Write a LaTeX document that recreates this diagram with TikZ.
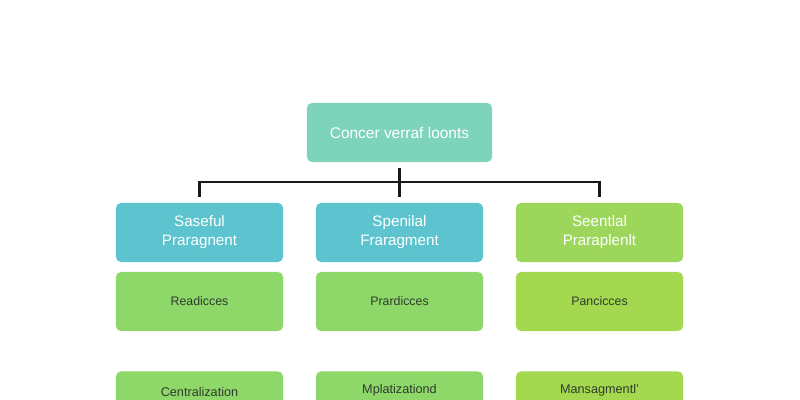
\documentclass[tikz,border=0pt]{standalone}
\usepackage{fontspec}
\setmainfont{Liberation Sans}
\usepackage{tikz}
\usetikzlibrary{positioning}
\definecolor{mint}{HTML}{7DD4BA}
\definecolor{tealbox}{HTML}{5DC4CF}
\definecolor{limebox}{HTML}{9CD65A}
\definecolor{leafgreen}{HTML}{8ED86A}
\definecolor{leaflime}{HTML}{A4D84F}
\definecolor{leaftext}{HTML}{2F3B2C}

\begin{document}
\begin{tikzpicture}
  [
    x=0.025cm, y=-0.025cm,
    Box/.style={rectangle, rounded corners=3.5pt, inner sep=0pt, minimum width=4.175cm, minimum height=1.475cm, align=center},
    Top/.style={Box, fill=mint, text=white, minimum width=4.625cm, font=\fontsize{11}{13}\selectfont},
    Teal/.style={Box, fill=tealbox, text=white, font=\fontsize{10.8}{13.5}\selectfont},
    Lime/.style={Box, fill=limebox, text=white, font=\fontsize{10.8}{13.5}\selectfont},
    Leaf/.style={Box, fill=leafgreen, text=leaftext, font=\fontsize{8.8}{10}\selectfont},
    LeafLime/.style={Leaf, fill=leaflime},
    Caption/.style={inner sep=0pt, text=leaftext, font=\fontsize{9}{11}\selectfont},
    Link/.style={draw=black!90, line width=1.7pt}
  ]
  \useasboundingbox (0,0) rectangle (800,400);
  \clip (0,0) rectangle (800,400);
  % Nodes
  \node[Top] (top) at(399.5, 132.5) {Concer verraf loonts};
  \node[Teal] (sa) at(199.5, 232.5) {Saseful\\Praragnent};
  \node[Teal] (sp) at(399.5, 232.5) {Spenilal\\Fraragment};
  \node[Lime] (se) at(599.5, 232.5) {Seentlal\\Praraplenlt};
  \node[Leaf] (re) at(199.5, 301.5) {Readicces};
  \node[Leaf] (pr) at(399.5, 301.5) {Prardicces};
  \node[LeafLime] (pa) at(599.5, 301.5) {Pancicces};
  \node[Leaf] (ce) at(199.5, 401) {};
  \node[Leaf] (mp) at(399.5, 401) {};
  \node[LeafLime] (ma) at(599.5, 401) {};
  \node[Caption] (cet) at(199.5, 392) {Centralization};
  \node[Caption] (mpt) at(399.5, 390) {Mplatizationd};
  \node[Caption] (mat) at(599.5, 390) {Mansagmentl'};
  \coordinate (hub) at(399.5, 182);
  % Lines
  \path [Link, shorten <=4.3pt, shorten >=4.3pt] (top.south) -- (sp.north);
  \path [Link, shorten <=4.3pt, shorten >=4.3pt] (sa.north) |- (hub) -| (se.north);
\end{tikzpicture}
\end{document}
